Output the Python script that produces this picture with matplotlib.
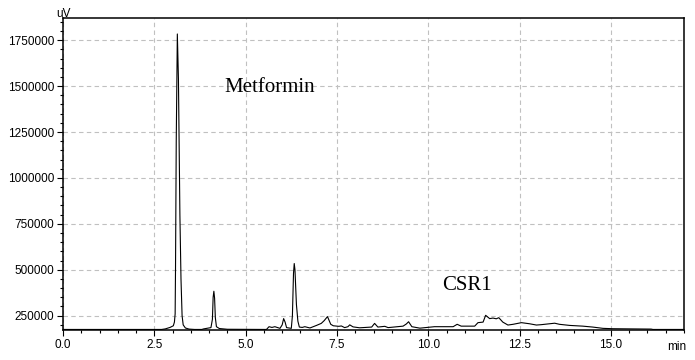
import matplotlib
matplotlib.use("Agg")
import matplotlib.pyplot as plt
from matplotlib.ticker import MultipleLocator, FuncFormatter

# Chromatogram trace (time in min, signal in uV)
time_min = [0.0, 2.70, 2.80, 2.93, 3.02, 3.05, 3.07, 3.08, 3.10, 3.13, 3.16, 3.20, 3.23,
            3.26, 3.29, 3.35, 3.45, 3.60,
            3.80, 3.85, 4.05, 4.09, 4.11, 4.13, 4.15, 4.17, 4.20, 4.28, 4.50, 5.55,
            5.57, 5.64, 5.72, 5.80, 5.94, 6.00, 6.04, 6.08, 6.12, 6.25, 6.28, 6.31,
            6.33, 6.35, 6.39, 6.43, 6.47, 6.55, 6.62, 6.76, 6.94, 7.07, 7.15, 7.24,
            7.33, 7.40, 7.55, 7.62, 7.71, 7.80, 7.85, 7.94, 8.12, 8.45, 8.53, 8.62,
            8.81, 8.90, 9.31, 9.40, 9.46, 9.55, 9.77, 10.17, 10.68, 10.79, 10.90,
            11.27, 11.36, 11.50, 11.57, 11.68, 11.77, 11.86, 11.93, 12.04, 12.18,
            12.32, 12.55, 12.77, 12.96, 13.09, 13.46, 13.59, 13.87, 14.23, 14.50,
            14.78, 15.05, 16.10, 16.15, 17.0]
signal_uv = [175000, 175000, 178000, 186000, 195000, 215000, 260000, 500000, 1200000,
             1784000, 1540000, 800000, 450000, 250000, 200000, 183000, 177000, 175000,
             175000, 178000, 185000, 230000, 350000, 383000, 345000, 240000, 190000,
             180000, 176000, 175000,
             175000, 190000, 186000, 190000, 181000, 200000, 234000, 215000, 185000,
             181000, 250000, 480000, 534000, 500000, 311000, 220000, 188000, 186000,
             190000, 183000, 197000, 208000, 223000, 245000, 203000, 195000, 192000,
             194000, 185000, 190000, 200000, 189000, 184000, 188000, 208000, 188000,
             192000, 185000, 193000, 205000, 217000, 190000, 182000, 190000, 190000,
             203000, 193000, 193000, 212000, 215000, 252000, 234000, 237000, 233000,
             239000, 215000, 199000, 203000, 212000, 206000, 199000, 201000, 209000,
             203000, 197000, 193000, 188000, 181000, 179000, 177000, 175000, 175000]

x_ticks = [0.0, 2.5, 5.0, 7.5, 10.0, 12.5, 15.0]
y_ticks = [250000, 500000, 750000, 1000000, 1250000, 1500000, 1750000]
annotations = ["Metformin", "CSR1"]
annot_pos = [(4.43, 1469000), (10.37, 389000)]

fig = plt.figure(figsize=(6.95, 3.6), dpi=100)
ax = fig.add_axes([63/695, 1 - 330/360, (684 - 63)/695, (330 - 18)/360])

ax.plot(time_min, signal_uv, color="black", lw=0.8, zorder=3)

ax.set_xlim(0, 17.0)
ax.set_ylim(172000, 1871000)

ax.set_xticks(x_ticks)
ax.set_yticks(y_ticks)
ax.xaxis.set_minor_locator(MultipleLocator(0.5))
ax.yaxis.set_minor_locator(MultipleLocator(50000))
ax.xaxis.set_major_formatter(FuncFormatter(lambda v, p: f"{v:.1f}"))
ax.yaxis.set_major_formatter(FuncFormatter(lambda v, p: f"{int(round(v))}"))

ax.tick_params(axis="both", which="major", direction="out", length=4.5, width=0.8,
               labelsize=8.5, pad=2)
ax.tick_params(axis="both", which="minor", direction="out", length=2.5, width=0.8)
for lab in ax.get_xticklabels() + ax.get_yticklabels():
    lab.set_fontfamily("Liberation Sans")

ax.grid(True, which="major", color="#c0c0c0", linestyle=(0, (4, 3)), linewidth=0.8)
for s in ax.spines.values():
    s.set_linewidth(1.1)
    s.set_color("black")

for txt, (tx, ty) in zip(annotations, annot_pos):
    ax.text(tx, ty, txt, family="Liberation Serif", fontsize=15, ha="left",
            va="baseline", color="black")

ax.annotate("uV", xy=(0, 1), xycoords="axes fraction", xytext=(-5.2, 0.8),
            textcoords="offset points", ha="left", va="baseline",
            family="Liberation Sans", fontsize=8.5)
ax.annotate("min", xy=(1, 0), xycoords="axes fraction", xytext=(1.5, -12.3),
            textcoords="offset points", ha="right", va="center",
            family="Liberation Sans", fontsize=8.5)

fig.savefig("out.png", dpi=100, facecolor="white")
